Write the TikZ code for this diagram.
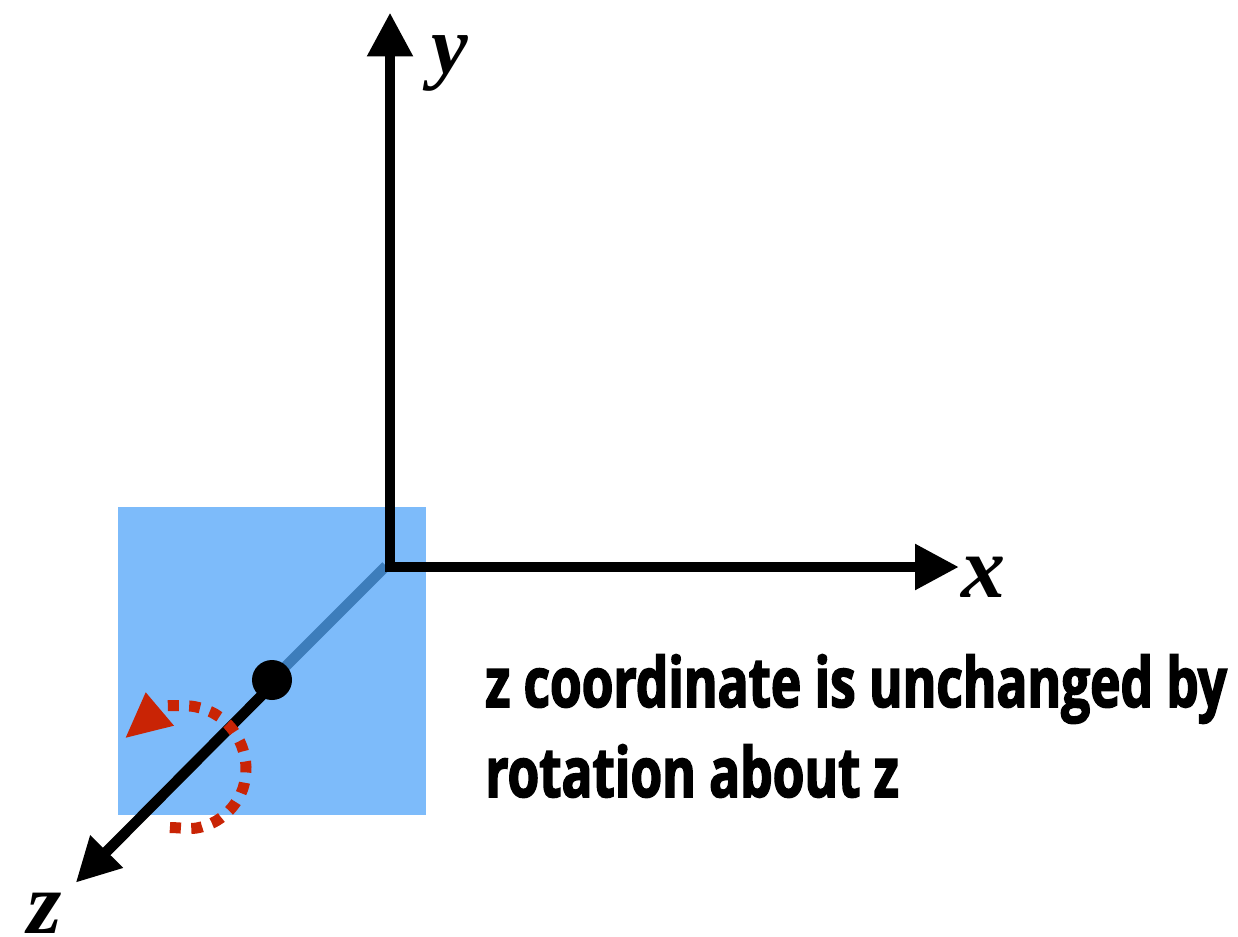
\documentclass[tikz,border=0pt]{standalone}
\usepackage{fontspec}
\usetikzlibrary{arrows.meta}
\setmainfont{Liberation Serif}
\newfontfamily\captionfont[FakeStretch=0.74,FakeBold=2.2,BoldFont={Open Sans Bold}]{Open Sans}
\definecolor{planeblue}{HTML}{7DBBFA}
\definecolor{axisblue}{HTML}{3D7DBB}
\definecolor{rotred}{HTML}{C92405}
\tikzset{
  headtip/.tip={Triangle[length=33pt,width=32.5pt]},
  axisline/.style={line width=7.9pt,-headtip},
  axispair/.style={line width=7.9pt,headtip-headtip,miter limit=10},
  axislabel/.style={font=\bfseries\itshape,inner sep=0pt,anchor=base},
  captiontext/.style={font=\fontsize{52}{67.5}\selectfont\captionfont\bfseries,inner sep=0pt,anchor=base west}
}
\begin{document}
\begin{tikzpicture}[x=0.75pt,y=-0.75pt]
\useasboundingbox (0,0) rectangle (1238,937);
\fill[white] (0,0) rectangle (1238,937);
\fill[planeblue] (118,507) rectangle (426,815);
\coordinate (o) at (390,567);
\coordinate (ytip) at (390,12.5);
\coordinate (xtip) at (959,567);
\coordinate (ztip) at (75.7,882.7);
\coordinate (p) at (272,680);
\coordinate (zs) at (276,681);
\coordinate (bo) at (386,566);
\draw[axisblue,line width=7.9pt] (bo) -- (p);
\draw[axispair] (ytip) -- (o) -- (xtip);
\draw[axisline] (zs) -- (ztip);
\fill (p) circle[radius=15pt];
\draw[rotred,line width=8.25pt,dash pattern=on 8.25pt off 7.8pt]
  plot[smooth,tension=0.6] coordinates {(167.8,705.6) (173.3,705.7) (195,706.7) (215,714) (231,727.7) (241.7,746) (246,767) (243,788.3) (232.7,806.7) (216.7,820.7) (196.7,828) (175,827.7) (169.5,827.5)};
\fill[rotred] (145.7,692.3) -- (125.7,737.7) -- (174,725.7) -- cycle;
\node[axislabel] (ylabel) at (450,74) {\fontsize{62}{62}\selectfont y};
\node[axislabel] (xlabel) at (983,597) {\fontsize{66}{66}\selectfont x};
\node[axislabel] (zlabel) at (45,933) {\fontsize{66}{66}\selectfont z};
\node[captiontext] (cap1) at (485,707) {z coordinate is unchanged by};
\node[captiontext] (cap2) at (485,797) {rotation about z};
\end{tikzpicture}
\end{document}
